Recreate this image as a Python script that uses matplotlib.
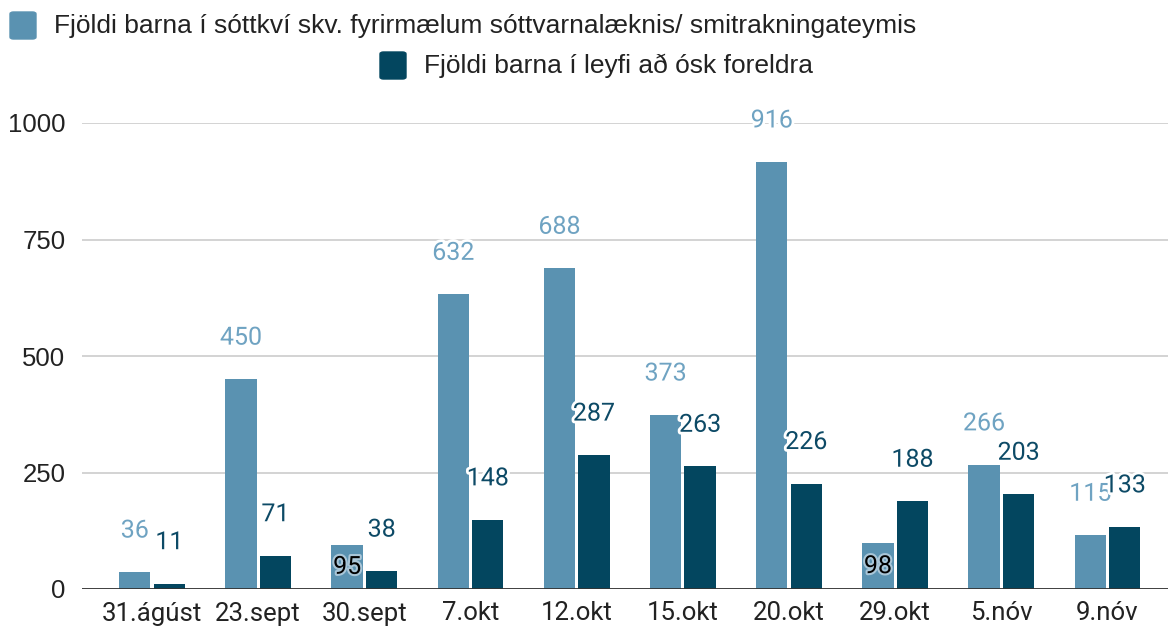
import matplotlib.pyplot as plt
import matplotlib.patheffects as pe
from matplotlib.patches import FancyBboxPatch
import numpy as np

# Data
dates = ["31.ágúst", "23.sept", "30.sept", "7.okt", "12.okt",
         "15.okt", "20.okt", "29.okt", "5.nóv", "9.nóv"]
quarantine = [36, 450, 95, 632, 688, 373, 916, 98, 266, 115]
parent_leave = [11, 71, 38, 148, 287, 263, 226, 188, 203, 133]
label_quarantine = "Fjöldi barna í sóttkví skv. fyrirmælum sóttvarnalæknis/ smitrakningateymis"
label_leave = "Fjöldi barna í leyfi að ósk foreldra"

light = "#5a92b1"
dark = "#03465f"
light_txt = "#6fa3c2"
dark_txt = "#0d4a66"

fig = plt.figure(figsize=(11.69, 6.31), dpi=100)
ax = fig.add_axes([82 / 1169, 42 / 631, 1086 / 1169, 466 / 631])

x = np.arange(len(dates))
w = 0.295
gap = 0.015
b1 = ax.bar(x - w / 2 - gap, quarantine, width=w, color=light, zorder=3)
b2 = ax.bar(x + w / 2 + gap, parent_leave, width=w, color=dark, zorder=3)

ax.set_ylim(0, 1000)
ax.set_xlim(-0.66, 9.57)
ax.set_yticks([0, 250, 500, 750, 1000])
ax.yaxis.grid(True, color="#cccccc", linewidth=1.2, zorder=0)
ax.axhline(0, color="#333333", linewidth=2, zorder=4)
for s in ax.spines.values():
    s.set_visible(False)
ax.tick_params(axis="both", length=0)
ax.tick_params(axis="y", pad=12)
ax.tick_params(axis="x", pad=9)
ax.set_xticks(x)
ax.set_xticklabels(dates, fontfamily="Roboto", fontsize=18.5, color="#222222")
for t in ax.get_yticklabels():
    t.set_fontfamily("Liberation Sans")
    t.set_fontsize(18.5)
    t.set_color("#222222")

stroke = [pe.withStroke(linewidth=4, foreground="white")]
inside = {2, 7}  # labels that Google Charts drew inside the bar
for i, (bar, v) in enumerate(zip(b1, quarantine)):
    cx = bar.get_x() + bar.get_width() / 2
    if i in inside:
        ax.text(cx, v / 2, str(v), ha="center", va="center", fontsize=18,
                fontfamily="Roboto", color="black",
                path_effects=[pe.withStroke(linewidth=3, foreground="#a9c6d8")], zorder=6)
    else:
        ax.annotate(str(v), (cx, v), xytext=(0, 30), textcoords="offset points",
                    ha="center", va="center", fontsize=18, fontfamily="Roboto",
                    color=light_txt, path_effects=stroke, zorder=6,
                    annotation_clip=False)
for bar, v in zip(b2, parent_leave):
    cx = bar.get_x() + bar.get_width() / 2
    ax.annotate(str(v), (cx, v), xytext=(0, 30), textcoords="offset points",
                ha="center", va="center", fontsize=18, fontfamily="Roboto",
                color=dark_txt, path_effects=stroke, zorder=7,
                annotation_clip=False)

# legend drawn by hand (two rows like the original)
def legend_row(x0, y0, color, text):
    fig.patches.append(FancyBboxPatch((x0 / 1169, (631 - y0 - 27) / 631), 26 / 1169, 27 / 631,
                                      boxstyle="round,pad=0,rounding_size=0.003",
                                      transform=fig.transFigure, color=color))
    fig.text((x0 + 44) / 1169, (631 - y0 - 14) / 631, text, fontsize=19,
             fontfamily="Liberation Sans", color="#222222", va="center")

legend_row(10, 12, light, label_quarantine)
legend_row(380, 52, dark, label_leave)

fig.savefig("out.png", dpi=100)
